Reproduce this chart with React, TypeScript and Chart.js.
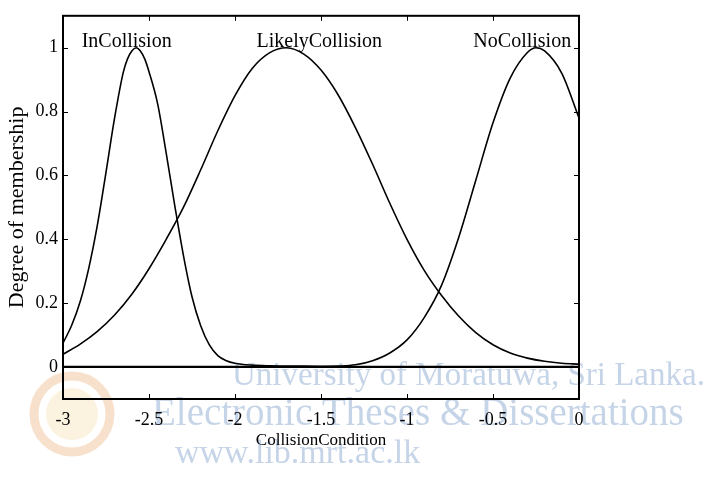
import { useEffect, useRef } from "react";
import { Chart, registerables } from "chart.js";

Chart.register(...registerables);

// ---- data ----
const xTickValues = [-3, -2.5, -2, -1.5, -1, -0.5, 0];
const yTickValues = [0, 0.2, 0.4, 0.6, 0.8, 1];
const mfNames = ["InCollision", "LikelyCollision", "NoCollision"];
const mfLabelX = [-2.63, -1.51, -0.33];

const inCollisionX = [-3, -2.95, -2.9, -2.85, -2.8, -2.75, -2.7, -2.65, -2.625, -2.6, -2.575, -2.55, -2.525, -2.5, -2.45, -2.4, -2.35, -2.3, -2.25, -2.2, -2.15, -2.1, -2.05, -2, -1.9, -1.8, -1.6, -1.4, -1, -0.5, 0];
const inCollisionY = [0.075, 0.13, 0.205, 0.31, 0.445, 0.61, 0.78, 0.922, 0.965, 0.99, 1.0, 0.99, 0.965, 0.925, 0.825, 0.67, 0.505, 0.35, 0.22, 0.13, 0.07, 0.036, 0.02, 0.012, 0.006, 0.004, 0.003, 0.002, 0.002, 0.002, 0.002];

const likelyX = [-3, -2.9, -2.8, -2.7, -2.6, -2.5, -2.4, -2.3, -2.2, -2.1, -2, -1.9, -1.8, -1.7, -1.6, -1.5, -1.4, -1.3, -1.2, -1.1, -1, -0.9, -0.8, -0.7, -0.6, -0.5, -0.4, -0.3, -0.2, -0.1, 0];
const likelyY = [0.04, 0.072, 0.112, 0.163, 0.228, 0.308, 0.4, 0.5, 0.617, 0.74, 0.85, 0.935, 0.984, 1.0, 0.98, 0.93, 0.852, 0.75, 0.635, 0.513, 0.4, 0.303, 0.225, 0.16, 0.108, 0.07, 0.044, 0.028, 0.018, 0.012, 0.009];

const noCollisionX = [-3, -2.5, -2, -1.5, -1.4, -1.3, -1.2, -1.1, -1, -0.9, -0.8, -0.7, -0.6, -0.5, -0.4, -0.3, -0.25, -0.2, -0.1, 0];
const noCollisionY = [0.002, 0.002, 0.002, 0.002, 0.003, 0.007, 0.02, 0.044, 0.085, 0.155, 0.255, 0.405, 0.585, 0.765, 0.905, 0.985, 1.0, 0.99, 0.92, 0.78];

const baselineX = [-3, 0];
const baselineY = [0, 0];

const xAxisTitle = "CollisionCondition";
const yAxisTitle = "Degree of membership";
const watermarkLines = ["University of Moratuwa, Sri Lanka.", "Electronic Theses & Dissertations", "www.lib.mrt.ac.lk"];

const SERIF = "'Liberation Serif', 'DejaVu Serif', serif";

function pts(xs: number[], ys: number[]) {
  return xs.map((x, i) => ({ x, y: ys[i] }));
}

const watermarkPlugin = {
  id: "watermark",
  beforeDraw(chart: any) {
    const ctx = chart.ctx as CanvasRenderingContext2D;
    ctx.save();
    ctx.fillStyle = "#ffffff";
    ctx.fillRect(0, 0, chart.width, chart.height);
    // faint emblem
    ctx.strokeStyle = "rgba(236,170,110,0.35)";
    ctx.lineWidth = 9;
    ctx.beginPath();
    ctx.arc(72, 414, 38, 0, Math.PI * 2);
    ctx.stroke();
    ctx.fillStyle = "rgba(240,210,140,0.28)";
    ctx.beginPath();
    ctx.arc(72, 414, 26, 0, Math.PI * 2);
    ctx.fill();
    ctx.fillStyle = "#c6d4e8";
    ctx.textBaseline = "alphabetic";
    ctx.textAlign = "left";
    ctx.font = `33px ${SERIF}`;
    ctx.fillText(watermarkLines[0], 232, 385);
    ctx.font = `39px ${SERIF}`;
    ctx.fillText(watermarkLines[1], 152, 425);
    ctx.font = `34px ${SERIF}`;
    ctx.fillText(watermarkLines[2], 175, 463);
    ctx.restore();
  },
};

const framePlugin = {
  id: "frame",
  afterDatasetsDraw(chart: any) {
    const ctx = chart.ctx as CanvasRenderingContext2D;
    const { left, right, top, bottom } = chart.chartArea;
    const xs = chart.scales.x;
    const ys = chart.scales.y;
    ctx.save();
    ctx.strokeStyle = "#000";
    ctx.lineWidth = 2;
    ctx.strokeRect(left, top, right - left, bottom - top);
    ctx.lineWidth = 1;
    const tl = 5;
    ctx.beginPath();
    for (const v of xTickValues) {
      const px = Math.round(xs.getPixelForValue(v)) + 0.5;
      ctx.moveTo(px, bottom);
      ctx.lineTo(px, bottom - tl);
      ctx.moveTo(px, top);
      ctx.lineTo(px, top + tl);
    }
    for (const v of yTickValues) {
      const py = Math.round(ys.getPixelForValue(v)) + 0.5;
      ctx.moveTo(left, py);
      ctx.lineTo(left + tl, py);
      ctx.moveTo(right, py);
      ctx.lineTo(right - tl, py);
    }
    ctx.stroke();

    // membership function names
    ctx.fillStyle = "#000";
    ctx.font = `20px ${SERIF}`;
    ctx.textAlign = "center";
    ctx.textBaseline = "alphabetic";
    const yPx = ys.getPixelForValue(1.0) - 1;
    mfNames.forEach((name, i) => {
      ctx.fillText(name, xs.getPixelForValue(mfLabelX[i]), yPx);
    });

    // axis titles
    ctx.font = `17px ${SERIF}`;
    ctx.textBaseline = "middle";
    ctx.fillText(xAxisTitle, (left + right) / 2, 441);
    ctx.save();
    ctx.translate(17, (top + bottom) / 2);
    ctx.rotate(-Math.PI / 2);
    ctx.font = `22px ${SERIF}`;
    ctx.fillText(yAxisTitle, 0, 0);
    ctx.restore();
    ctx.restore();
  },
};

export default function App() {
  const canvasRef = useRef<HTMLCanvasElement | null>(null);

  useEffect(() => {
    if (!canvasRef.current) return;
    const lineStyle = {
      borderColor: "#000",
      borderWidth: 1.6,
      pointRadius: 0,
      fill: false,
      cubicInterpolationMode: "monotone" as const,
    };
    const chart = new Chart(canvasRef.current, {
      type: "line",
      data: {
        datasets: [
          { label: mfNames[0], data: pts(inCollisionX, inCollisionY), ...lineStyle },
          { label: mfNames[1], data: pts(likelyX, likelyY), ...lineStyle },
          { label: mfNames[2], data: pts(noCollisionX, noCollisionY), ...lineStyle },
          { label: "baseline", data: pts(baselineX, baselineY), borderColor: "#000", borderWidth: 2, pointRadius: 0, fill: false },
        ],
      },
      options: {
        animation: false,
        responsive: true,
        maintainAspectRatio: false,
        layout: { padding: { left: 0, right: 132, top: 10, bottom: 0 } },
        plugins: { legend: { display: false }, tooltip: { enabled: false } },
        scales: {
          x: {
            type: "linear",
            min: -3,
            max: 0,
            afterBuildTicks: (s: any) => {
              s.ticks = xTickValues.map((v) => ({ value: v }));
            },
            afterFit: (s: any) => {
              s.height = 80;
            },
            grid: { display: false, drawTicks: false },
            border: { display: false },
            ticks: {
              autoSkip: false,
              maxRotation: 0,
              padding: 10,
              color: "#000",
              font: { family: SERIF, size: 18 },
              callback: (v: any) => String(v),
            },
          },
          y: {
            type: "linear",
            min: -0.1,
            max: 1.1,
            afterBuildTicks: (s: any) => {
              s.ticks = yTickValues.map((v) => ({ value: v }));
            },
            afterFit: (s: any) => {
              s.width = 63;
            },
            grid: { display: false, drawTicks: false },
            border: { display: false },
            ticks: {
              autoSkip: false,
              padding: 5,
              color: "#000",
              font: { family: SERIF, size: 18 },
              callback: (v: any) => String(v),
            },
          },
        },
      },
      plugins: [watermarkPlugin, framePlugin],
    });
    return () => chart.destroy();
  }, []);

  return (
    <div style={{ position: "absolute", left: 0, top: 0, width: 711, height: 479 }}>
      <canvas ref={canvasRef} />
    </div>
  );
}
